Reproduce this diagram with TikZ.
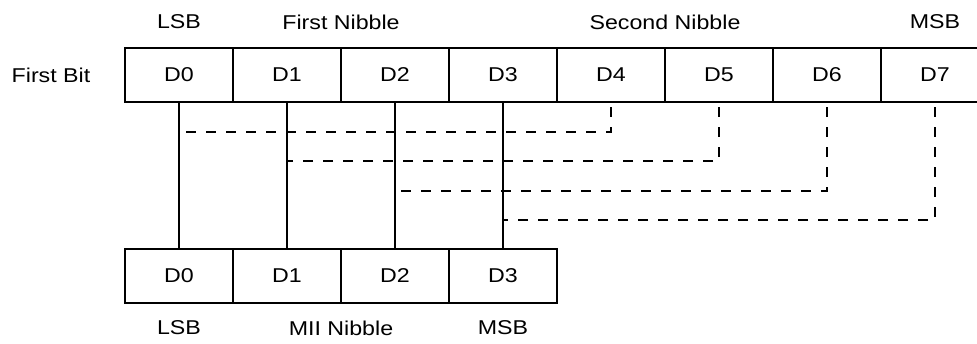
\documentclass[tikz,border=0pt]{standalone}
\usepackage{fontspec}
\setmainfont[FakeStretch=1.16]{Liberation Sans}
\begin{document}
\begin{tikzpicture}[x=0.5pt, y=-0.5pt, line width=1pt,
		cell/.style={draw, rectangle, minimum width=54pt, minimum height=27pt,
			inner sep=0pt, outer sep=0pt, font=\fontsize{10}{12}\selectfont},
		lbl/.style={inner sep=0pt, font=\fontsize{10}{12}\selectfont},
		link/.style={dashed, dash pattern=on 5pt off 5pt}]
	% Page frame (the D7 cell runs past the right edge)
	\path[use as bounding box, clip] (0,0) rectangle (977,343);
	
	% Serial byte and MII nibble
	\foreach \i in {0,...,7}
		\node[cell] (t\i) at ({179+108*\i},75) {D\i};
	\foreach \i in {0,...,3}
		\node[cell] (b\i) at ({179+108*\i},276) {D\i};
	
	% Labels
	\node[lbl] (fbit) at (51,75) {First Bit};
	\node[lbl] (tlsb) at (179,22) {LSB};
	\node[lbl] (fnib) at (341,22) {First Nibble};
	\node[lbl] (snib) at (665,22) {Second Nibble};
	\node[lbl] (tmsb) at (935,22) {MSB};
	\node[lbl] (blsb) at (179,328) {LSB};
	\node[lbl] (mnib) at (341,328) {MII Nibble};
	\node[lbl] (bmsb) at (503,328) {MSB};
	
	% First nibble straight down
	\foreach \i in {0,...,3} {
		\coordinate (j\i) at ({179+108*\i},{131.5+29.5*\i});
		\draw (t\i.south) -- (b\i.north);
	}
	
	% Second nibble folded onto the same lines
	\foreach \k/\i in {4/0,5/1,6/2,7/3}
		\draw[link] (t\k.south) ++(0,5) |- (j\i);
\end{tikzpicture}
\end{document}
